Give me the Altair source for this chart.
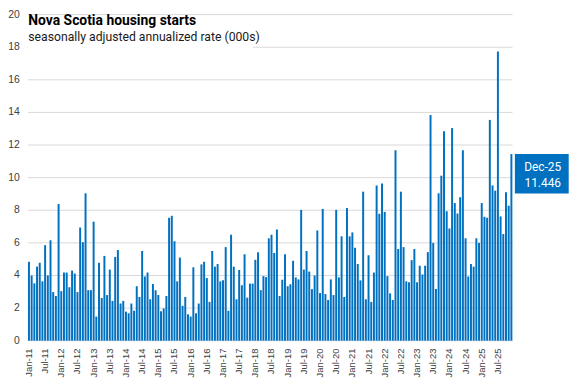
import altair as alt
import pandas as pd

TITLE = "Nova Scotia housing starts"
SUBTITLE = "seasonally adjusted annualized rate (000s)"
MONTH_NAMES = ["Jan", "Feb", "Mar", "Apr", "May", "Jun",
               "Jul", "Aug", "Sep", "Oct", "Nov", "Dec"]
YEARS = list(range(2011, 2026))
months = [f"{m}-{y % 100:02d}" for y in YEARS for m in MONTH_NAMES]
tick_labels = [f"{m}-{y % 100:02d}" for y in YEARS for m in ("Jan", "Jul")]
y_ticks = list(range(0, 21, 2))

starts = [
    4.84, 4.0, 3.52, 4.54, 4.78, 3.64, 5.86, 4.0, 6.16, 2.98, 2.74, 8.38,
    3.04, 4.18, 4.18, 3.28, 4.3, 4.12, 2.98, 6.94, 6.04, 9.04, 3.1, 3.1,
    7.3, 1.48, 4.78, 2.62, 5.2, 2.8, 4.36, 2.44, 5.14, 5.56, 2.28, 2.44,
    1.78, 1.68, 2.28, 1.84, 3.34, 2.68, 5.5, 3.94, 4.18, 2.54, 3.48, 3.1,
    2.8, 1.8, 1.98, 2.74, 7.54, 7.66, 6.1, 3.64, 5.1, 2.14, 2.68, 1.62,
    1.48, 4.5, 1.68, 2.28, 4.68, 4.84, 3.84, 2.38, 5.5, 4.54, 4.7, 3.64,
    3.7, 5.74, 1.84, 6.5, 4.54, 2.54, 4.34, 3.4, 5.3, 2.64, 3.5, 3.5,
    4.96, 5.42, 3.1, 3.96, 3.9, 6.28, 6.5, 5.38, 6.82, 2.74, 3.74, 5.3,
    3.34, 3.46, 4.9, 3.88, 3.76, 8.02, 4.36, 5.5, 4.24, 3.16, 4.0, 6.76,
    2.92, 8.08, 2.86, 2.5, 3.76, 2.8, 8.02, 3.88, 6.4, 2.68, 8.14, 6.4,
    6.64, 5.7, 4.7, 3.7, 9.14, 2.54, 5.24, 2.38, 4.18, 9.52, 7.78, 9.64,
    7.9, 3.96, 2.9, 2.5, 11.68, 5.62, 9.14, 5.74, 3.64, 3.58, 4.94, 5.62,
    3.58, 4.6, 4.06, 4.6, 5.43, 13.84, 6.0, 3.17, 9.04, 10.12, 12.84, 7.94,
    6.88, 13.04, 8.44, 7.8, 8.8, 11.68, 6.28, 3.94, 4.7, 4.54, 6.28, 6.0,
    8.44, 7.6, 7.54, 13.54, 9.52, 9.2, 17.74, 7.62, 6.54, 9.1, 8.28, 11.446,
]

BLUE = "#0070C0"
FONT = "Roboto"
AXIS_FONT = "Liberation Sans"
LABEL_COLOR = "#404040"
W, H = 489, 329

df = pd.DataFrame({"month": months, "value": starts})
ticks_df = pd.DataFrame({"tick": y_ticks})
xlab_df = pd.DataFrame({"month": tick_labels})
last_month = months[-1]

y_scale = alt.Scale(domain=[0, 20], nice=False)
x_scale = alt.Scale(paddingInner=0.27, paddingOuter=0.05)


def X(field="month:N"):
    return alt.X(field, sort=months, scale=x_scale, axis=None)


def Y(field="value:Q"):
    return alt.Y(field, scale=y_scale, axis=None)


grid = alt.Chart(ticks_df).mark_rule(color="#d9d9d9", strokeWidth=1).encode(
    y=Y("tick:Q")
)
y_labels = alt.Chart(ticks_df).mark_text(
    align="right", baseline="middle", font=AXIS_FONT, fontSize=10.5,
    color=LABEL_COLOR
).encode(y=Y("tick:Q"), text=alt.Text("tick:Q"), x=alt.value(-8))

base = alt.Chart(df)
bars = base.mark_bar(color=BLUE).encode(x=X(), y=Y())

x_labels = alt.Chart(xlab_df).mark_text(
    angle=270, align="right", baseline="middle", font=AXIS_FONT,
    fontSize=9.5, color=LABEL_COLOR
).encode(x=X(), text="month:N", y=alt.value(H + 8))

one = pd.DataFrame({"t": [TITLE], "s": [SUBTITLE]})
sub_bg = alt.Chart(one).mark_rect(color="white").encode(
    x=alt.value(0), x2=alt.value(227), y=alt.value(16), y2=alt.value(37)
)
title_txt = alt.Chart(one).mark_text(
    align="left", baseline="alphabetic", font=FONT, fontSize=14,
    fontWeight="bold", color="black"
).encode(text="t:N", x=alt.value(0.5), y=alt.value(10.5))
sub_txt = alt.Chart(one).mark_text(
    align="left", baseline="alphabetic", font=FONT, fontSize=12.3,
    color="#1a1a1a"
).encode(text="s:N", x=alt.value(0.5), y=alt.value(27))

last = base.transform_filter(alt.datum.month == last_month)
box = last.mark_rect(color=BLUE, y2Offset=39.7).encode(
    x=alt.value(491.4), x2=alt.value(545.7), y=Y(), y2=alt.Y2("value:Q"),
)
box_t1 = last.mark_text(
    font=FONT, fontSize=12, color="white", baseline="middle", yOffset=13.5
).encode(text="month:N", x=alt.value(519.5), y=Y())
box_t2 = last.mark_text(
    font=FONT, fontSize=12, color="white", baseline="middle", yOffset=29.3
).encode(text=alt.Text("value:Q", format=".3f"), x=alt.value(519.5), y=Y())

chart = alt.layer(
    grid, y_labels, bars, x_labels, sub_bg, title_txt, sub_txt,
    box, box_t1, box_t2
).properties(
    width=W, height=H,
    padding={"left": 0, "top": 0, "right": 0, "bottom": 0},
    background="white",
).configure_view(stroke=None)

chart.save("out.html", embed_options={"renderer": "svg", "actions": False})
